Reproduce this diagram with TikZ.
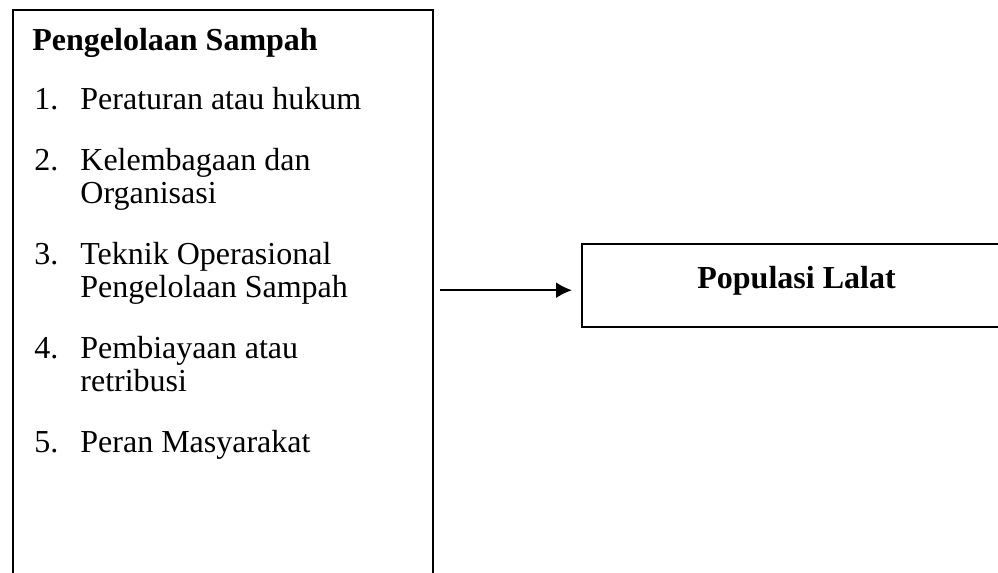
\documentclass[tikz,border=0pt]{standalone}
\usepackage{fontspec}
\setmainfont{Liberation Serif}
\usetikzlibrary{arrows.meta}

\tikzset{
  teks/.style={anchor=base west, inner sep=0pt, font=\fontsize{16}{19}\selectfont},
  tebal/.style={teks, font=\fontsize{16}{19}\selectfont\bfseries},
  kotak/.style={draw, line width=1pt, inner sep=0pt, anchor=north west},
  panah/.style={line width=1pt, -{Latex[length=8pt, width=8pt]}},
}

\begin{document}
\begin{tikzpicture}[x=0.5pt, y=-0.5pt]
\useasboundingbox (0,0) rectangle (998,573);
% kotak kiri dan kanan
\node[kotak, minimum width=210pt, minimum height=296pt] (kelola) at (12, 9) {};
\node[kotak, line width=1.2pt, minimum width=215pt, minimum height=41.5pt] (lalat) at (581, 243) {};
% isi kotak kiri
\node[tebal] (judul) at (32, 50) {Pengelolaan Sampah};
\node[teks] (n1) at (34, 109) {1.};
\node[teks] (t1) at (80, 109) {Peraturan atau hukum};
\node[teks] (n2) at (34, 170) {2.};
\node[teks] (t2) at (80, 170) {Kelembagaan dan};
\node[teks] (t2b) at (80, 203) {Organisasi};
\node[teks] (n3) at (34, 264) {3.};
\node[teks] (t3) at (80, 264) {Teknik Operasional};
\node[teks] (t3b) at (80, 297) {Pengelolaan Sampah};
\node[teks] (n4) at (34, 358) {4.};
\node[teks] (t4) at (80, 358) {Pembiayaan atau};
\node[teks] (t4b) at (80, 391) {retribusi};
\node[teks] (n5) at (34, 452) {5.};
\node[teks] (t5) at (80, 452) {Peran Masyarakat};
% isi kotak kanan
\node[tebal] (judul2) at (697, 288) {Populasi Lalat};
	\draw[panah] ([xshift=3pt, yshift=-2.25pt]kelola.east |- lalat.west) -- ([xshift=-4.5pt, yshift=-2.25pt]lalat.west);
\end{tikzpicture}
\end{document}
